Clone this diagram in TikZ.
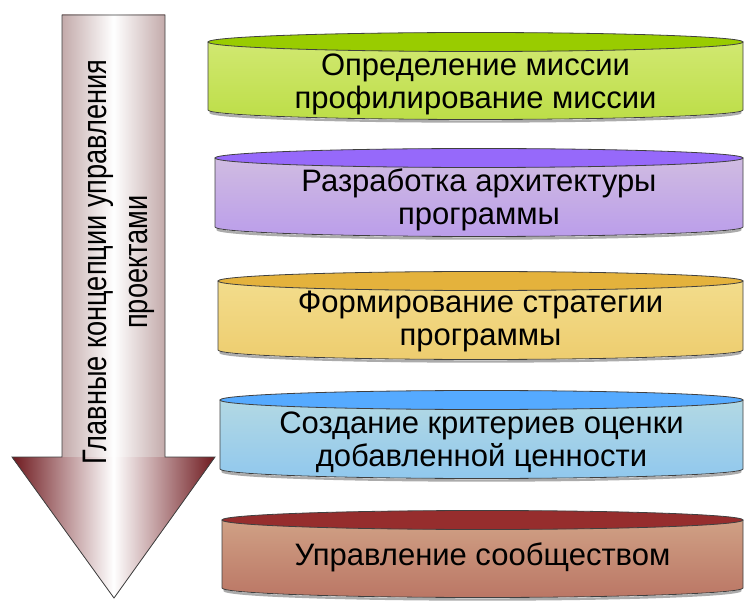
\documentclass[tikz,border=0pt]{standalone}
\usepackage{fontspec}
\setmainfont{Liberation Sans}
\newfontfamily\narrowsans[FakeStretch=0.8]{Liberation Sans}
\begin{document}
\begin{tikzpicture}[x=1pt,y=-1pt]
\definecolor{pale}{RGB}{255,255,205}
\definecolor{cgreen}{RGB}{153,204,0}
\definecolor{cpurple}{RGB}{150,105,250}
\definecolor{cgold}{RGB}{228,178,60}
\definecolor{cblue}{RGB}{85,170,255}
\definecolor{cred}{RGB}{150,45,45}
\definecolor{shaftedge}{RGB}{195,170,170}
\definecolor{headedge}{RGB}{110,25,30}
\tikzset{
  outline/.style={draw=black!75,line width=0.8pt},
  label/.style={font=\fontsize{31}{33}\selectfont,align=center,text=black},
  arrowlabel/.style={font=\narrowsans\fontsize{34}{41}\selectfont,align=center,text=black,rotate=90},
}
\useasboundingbox (0,0) rectangle (744,601);
% big downward arrow
\fill[left color=shaftedge,right color=shaftedge,middle color=white]
  (62,15) rectangle (165,457);
\fill[left color=headedge,right color=headedge,middle color=white]
  (12,457) -- (215,457) -- (114,598) -- cycle;
\draw[outline,line join=miter]
  (62,15) -- (165,15) -- (165,457) -- (215,457) -- (114,598)
  -- (12,457) -- (62,457) -- cycle;
\node[arrowlabel] (arrowtext) at (119,262)
  {Главные концепции управления\\проектами};
% stacked cylinders
\newcommand{\drum}[7]{%
  % #1 name, #2 left x, #3 top y, #4 bottom y, #5 colour, #6 text y, #7 text
  \pgfmathsetmacro{\rx}{(743-#2)/2}%
  \pgfmathsetmacro{\cx}{(743+#2)/2}%
  \draw[black!60,line width=2.4pt,opacity=0.55]
    (#2+2,#4+2) arc[start angle=180,end angle=360,x radius=\rx pt-2pt,y radius=9.5pt];
  \path[outline,top color=#5!45!pale,middle color=pale,bottom color=#5!65!pale]
    (#2,#3) -- (#2,#4)
    arc[start angle=180,end angle=360,x radius=\rx pt,y radius=9.5pt]
    -- (743,#3) -- cycle;
  \path[outline,fill=#5] (\cx,#3) ellipse[x radius=\rx pt,y radius=9.5pt];
  \node[label] (#1) at (\cx,#6) {#7};
}
\drum{mission}{208}{42}{110}{cgreen}{84}{Определение миссии\\профилирование миссии}
\drum{architecture}{215}{158}{227}{cpurple}{200}{Разработка архитектуры\\программы}
\drum{strategy}{218}{281}{350}{cgold}{321}{Формирование стратегии\\программы}
\drum{criteria}{220}{400}{469}{cblue}{442}{Создание критериев оценки\\добавленной ценности}
\drum{community}{222}{520}{588}{cred}{557}{Управление сообществом}
\end{tikzpicture}
\end{document}
